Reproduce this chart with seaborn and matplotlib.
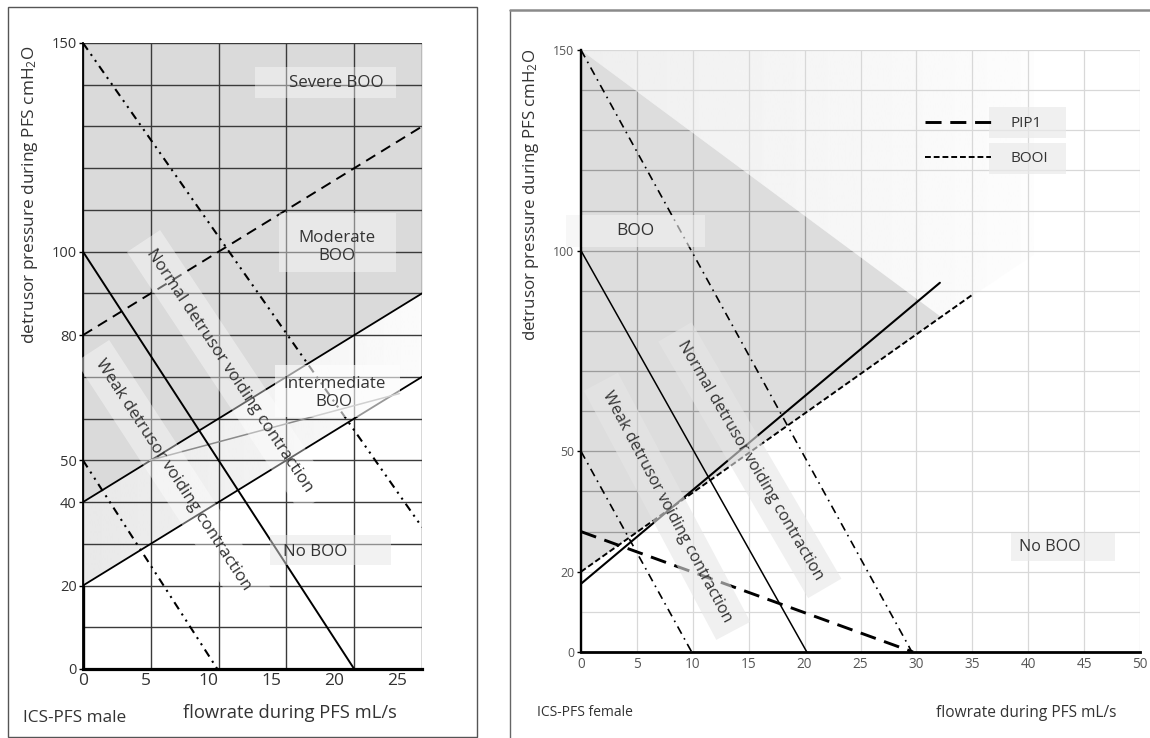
import numpy as np
import pandas as pd
import matplotlib
matplotlib.use("Agg")
import matplotlib.pyplot as plt
import seaborn as sns
from matplotlib.patches import Rectangle, Polygon
from matplotlib.lines import Line2D

sns.set_theme(style="white")
plt.rcParams['font.family'] = ['Open Sans', 'DejaVu Sans']
plt.rcParams['mathtext.fontset'] = 'custom'
plt.rcParams['mathtext.rm'] = 'Open Sans'
plt.rcParams['mathtext.it'] = 'Open Sans'
plt.rcParams['mathtext.bf'] = 'Open Sans'

W, H = 1150, 738

# ---------------- male (left) data ----------------
male_xticks = [0, 5, 10, 15, 20, 25]
male_yticks = [0, 20, 40, 50, 80, 100, 150]
male_xmax = 27.0
male_ymax = 150
male_bci100_q = [0, 21.6]
male_bci100_p = [100, 0]
male_bci150_q = [0, 27.0]
male_bci150_p = [150, 34]
male_bci50_q = [0, 10.7]
male_bci50_p = [50, 0]
male_booi80_q = [0, 27.0]
male_booi80_p = [80, 130]
male_booi40_q = [0, 27.0]
male_booi40_p = [40, 90]
male_booi20_q = [0, 27.0]
male_booi20_p = [20, 70]
male_gray_q = [5.3, 25.2]
male_gray_p = [50, 66]

# ---------------- female (right) data ----------------
fem_xticks = [0, 5, 10, 15, 20, 25, 30, 35, 40, 45, 50]
fem_yticks = [0, 20, 50, 100, 150]
fem_xmax = 50
fem_ymax = 150
fem_bci100_q = [0, 20.2]
fem_bci100_p = [100, 0]
fem_bci150_q = [0, 29.6]
fem_bci150_p = [150, 0]
fem_bci50_q = [0, 9.9]
fem_bci50_p = [50, 0]
fem_pip1_q = [0, 29.7]
fem_pip1_p = [30, 0]
fem_solid_q = [0, 32.1]
fem_solid_p = [17, 92]
fem_booi_q = [0, 35.0]
fem_booi_p = [20, 89]
fem_boo_region_q = [0, 32.2, 0]
fem_boo_region_p = [20, 83.5, 150]
fem_fade_region_q = [0, 40.5, 40.5, 32.2]
fem_fade_region_p = [150, 150, 99, 83.5]

TXT = '#333333'

fig = plt.figure(figsize=(W / 100, H / 100), dpi=100)


def fx(px):
    return px / W


def fy(py):
    return 1 - py / H


axL = fig.add_axes([fx(83), fy(669), (422 - 83) / W, (669 - 43) / H])
axR = fig.add_axes([fx(581), fy(652), (1140 - 581) / W, (652 - 50) / H])

# panel frames
fig.add_artist(Rectangle((fx(8), fy(737)), (477 - 8) / W, (737 - 7) / H,
                         transform=fig.transFigure, fill=False, ec='#555555', lw=1.0))
fig.add_artist(Line2D([fx(510), fx(510)], [fy(10), fy(740)], transform=fig.transFigure,
                      color='#666666', lw=1.0))
fig.add_artist(Line2D([fx(510), 1.0], [fy(10), fy(10)], transform=fig.transFigure,
                      color='#8a8a8a', lw=1.8))


def draw_line(ax, q, p, **kw):
    df = pd.DataFrame({'q': q, 'p': p})
    sns.lineplot(data=df, x='q', y='p', ax=ax, sort=False, estimator=None,
                 legend=False, **kw)
    return ax.lines[-1]


def box_px(ax, x0, y0, x1, y1, fc, alpha, z=4):
    r = Rectangle((fx(x0), fy(y1)), (x1 - x0) / W, (y1 - y0) / H,
                  transform=fig.transFigure, fc=fc, ec='none', alpha=alpha,
                  zorder=z, clip_on=False)
    ax.add_artist(r)


def gradient_fill(ax, qs, ps, lo, hi, xmax, ymax):
    poly = Polygon(np.column_stack([qs, ps]), closed=True, fc='none', ec='none')
    ax.add_patch(poly)
    grad = np.linspace(lo, hi, 256)[None, :]
    im = ax.imshow(grad, extent=[0, xmax, 0, ymax], cmap='gray', vmin=0, vmax=1,
                   aspect='auto', zorder=1, interpolation='bilinear')
    im.set_clip_path(poly)
    return poly


DDOT = (0, (4, 2.5, 1, 2.5, 1, 2.5))
DDOT_R = (0, (5, 3, 1, 3))

# ================= LEFT PANEL =================
ax = axL
ax.fill_between(male_booi40_q, male_booi40_p, male_ymax, color='#dadada', lw=0, zorder=1)
gradient_fill(ax, male_booi20_q + male_booi40_q[::-1], male_booi20_p + male_booi40_p[::-1],
              0.91, 0.985, male_xmax, male_ymax)

for gx in np.linspace(0, male_xmax, 6):
    ax.axvline(gx, color='#3a3a3a', lw=1.0, zorder=2)
for gy in range(0, male_ymax + 1, 10):
    ax.axhline(gy, color='#3a3a3a', lw=1.0, zorder=2)

draw_line(ax, male_booi40_q, male_booi40_p, color='black', lw=1.3, zorder=3)
draw_line(ax, male_booi20_q, male_booi20_p, color='black', lw=1.3, zorder=3)
draw_line(ax, male_gray_q, male_gray_p, color='#8a8a8a', lw=1.1, zorder=3)
draw_line(ax, male_bci100_q, male_bci100_p, color='black', lw=1.4, zorder=3)
draw_line(ax, male_booi80_q, male_booi80_p, color='black', lw=1.4,
          linestyle=(0, (5.5, 3.5)), zorder=3)
draw_line(ax, male_bci150_q, male_bci150_p, color='black', lw=1.5, linestyle=DDOT, zorder=3)
draw_line(ax, male_bci50_q, male_bci50_p, color='black', lw=1.5, linestyle=DDOT, zorder=3)
ax.axvline(0, ymin=0, ymax=male_yticks[1] / male_ymax, color='black', lw=2.4, zorder=5)

ax.set_xlim(0, male_xmax)
ax.set_ylim(0, male_ymax)
ax.set_xlabel('')
ax.set_ylabel('')
ax.set_xticks(male_xticks)
ax.set_yticks(male_yticks)
ax.tick_params(axis='x', length=0, pad=3, labelsize=12.5, labelcolor=TXT)
ax.tick_params(axis='y', length=3, width=1, color='black', pad=1.5, labelsize=10.5,
               labelcolor=TXT, left=True)
for s in ['top', 'right']:
    ax.spines[s].set_visible(False)
ax.spines['left'].set_color('black')
ax.spines['left'].set_linewidth(1.3)
ax.spines['bottom'].set_color('black')
ax.spines['bottom'].set_linewidth(2.3)
for s in ax.spines.values():
    s.set_zorder(5)

# label boxes
box_px(ax, 255, 67, 396, 98, 'white', 0.4)
box_px(ax, 279, 213, 396, 272, 'white', 0.4)
box_px(ax, 275, 365, 400, 417, 'white', 0.6)
box_px(ax, 270, 535, 391, 565, '#e6e6e6', 0.5)

LFS = 12.2
ax.text(20.2, 140.4, 'Severe BOO', ha='center', va='center', fontsize=LFS, color=TXT, zorder=6)
ax.text(20.2, 101.1, 'Moderate\nBOO', ha='center', va='center', fontsize=LFS, color=TXT,
        zorder=6, linespacing=1.15)
ax.text(20.0, 66.1, 'Intermediate\nBOO', ha='center', va='center', fontsize=LFS, color=TXT,
        zorder=6, linespacing=1.15)
ax.text(18.5, 28.0, 'No BOO', ha='center', va='center', fontsize=LFS, color=TXT, zorder=6)
ax.text(11.7, 71.4, 'Normal detrusor voiding contraction', rotation=-56.4,
        rotation_mode='anchor', ha='center', va='center', fontsize=LFS, color=TXT, zorder=6,
        bbox=dict(boxstyle='square,pad=0.7', fc='white', ec='none', alpha=0.4))
ax.text(7.2, 46.5, 'Weak detrusor voiding contraction', rotation=-56.9,
        rotation_mode='anchor', ha='center', va='center', fontsize=LFS, color=TXT, zorder=6,
        bbox=dict(boxstyle='square,pad=0.7', fc='white', ec='none', alpha=0.4))

fig.text(fx(30), fy(195), r'detrusor pressure during PFS cmH$_2$O', rotation=90,
         ha='center', va='center', fontsize=12.4, color=TXT)
fig.text(fx(290), fy(713), 'flowrate during PFS mL/s', ha='center', va='center',
         fontsize=13.2, color=TXT)
fig.text(fx(75), fy(718), 'ICS-PFS male', ha='center', va='center', fontsize=12.4, color=TXT)

# ================= RIGHT PANEL =================
ax = axR
gradient_fill(ax, fem_fade_region_q, fem_fade_region_p, 0.935, 0.99, fem_xmax * 0.81, fem_ymax)
boo = ax.fill(fem_boo_region_q, fem_boo_region_p, color='#dddddd', lw=0, zorder=1)[0]

for gx in fem_xticks:
    ax.axvline(gx, color='#d8d8d8', lw=0.9, zorder=2)
    ln = ax.axvline(gx, color='#9c9c9c', lw=0.9, zorder=2)
    ln.set_clip_path(boo)
for gy in range(0, fem_ymax + 1, 10):
    ax.axhline(gy, color='#d8d8d8', lw=0.9, zorder=2)
    ln = ax.axhline(gy, color='#9c9c9c', lw=0.9, zorder=2)
    ln.set_clip_path(boo)

draw_line(ax, fem_solid_q, fem_solid_p, color='black', lw=1.5, zorder=3)
booi_ln = draw_line(ax, fem_booi_q, fem_booi_p, color='black', lw=1.4,
                    linestyle=(0, (3, 1.5)), zorder=3, label='BOOI')
draw_line(ax, fem_bci100_q, fem_bci100_p, color='black', lw=1.1, zorder=3)
draw_line(ax, fem_bci150_q, fem_bci150_p, color='black', lw=1.2, linestyle=DDOT_R, zorder=3)
draw_line(ax, fem_bci50_q, fem_bci50_p, color='black', lw=1.2, linestyle=DDOT_R, zorder=3)
pip_ln = draw_line(ax, fem_pip1_q, fem_pip1_p, color='black', lw=2.1,
                   linestyle=(0, (5.5, 3)), zorder=3, label='PIP1')

ax.set_xlim(0, fem_xmax)
ax.set_ylim(0, fem_ymax)
ax.set_xlabel('')
ax.set_ylabel('')
ax.set_xticks(fem_xticks)
ax.set_yticks(fem_yticks)
ax.tick_params(axis='x', length=0, pad=3.5, labelsize=9.8, labelcolor='#555555')
ax.tick_params(axis='y', length=3, width=1, color='black', pad=2, labelsize=8.8,
               labelcolor='#555555', left=True)
for s in ['top', 'right']:
    ax.spines[s].set_visible(False)
ax.spines['left'].set_color('black')
ax.spines['left'].set_linewidth(1.7)
ax.spines['bottom'].set_color('black')
ax.spines['bottom'].set_linewidth(2.0)
for s in ax.spines.values():
    s.set_zorder(5)

box_px(ax, 566, 215, 705, 247, '#f2f2f2', 0.6)
box_px(ax, 1011, 533, 1115, 561, '#e8e8e8', 0.6)
box_px(ax, 989, 107, 1066, 138, '#eaeaea', 0.7)
box_px(ax, 989, 143, 1066, 174, '#eaeaea', 0.7)

RFS = 11.6
ax.text(4.83, 105.0, 'BOO', ha='center', va='center', fontsize=12.5, color=TXT, zorder=6)
ax.text(41.9, 26.1, 'No BOO', ha='center', va='center', fontsize=RFS, color=TXT, zorder=6)
ax.text(15.1, 47.8, 'Normal detrusor voiding contraction', rotation=-59.7,
        rotation_mode='anchor', ha='center', va='center', fontsize=RFS, color=TXT, zorder=6,
        bbox=dict(boxstyle='square,pad=0.7', fc='#e6e6e6', ec='none', alpha=0.6))
ax.text(7.7, 36.3, 'Weak detrusor voiding contraction', rotation=-62,
        rotation_mode='anchor', ha='center', va='center', fontsize=RFS, color=TXT, zorder=6,
        bbox=dict(boxstyle='square,pad=0.7', fc='#e6e6e6', ec='none', alpha=0.6))

leg = ax.legend(handles=[pip_ln, booi_ln], labels=['PIP1', 'BOOI'], loc='upper left',
                bbox_to_anchor=(fx(925), fy(116)), bbox_transform=fig.transFigure,
                frameon=False, borderpad=0, borderaxespad=0, handlelength=4.3,
                handletextpad=1.3, labelspacing=1.3, fontsize=11)
for t in leg.get_texts():
    t.set_color(TXT)
leg.set_zorder(7)

fig.text(fx(531), fy(195), r'detrusor pressure during PFS cmH$_2$O', rotation=90,
         ha='center', va='center', fontsize=12.2, color=TXT)
fig.text(fx(1026), fy(713), 'flowrate during PFS mL/s', ha='center', va='center',
         fontsize=11.2, color=TXT)
fig.text(fx(585), fy(712), 'ICS-PFS female', ha='center', va='center', fontsize=10,
         color=TXT)

fig.savefig('out.png', dpi=100)
